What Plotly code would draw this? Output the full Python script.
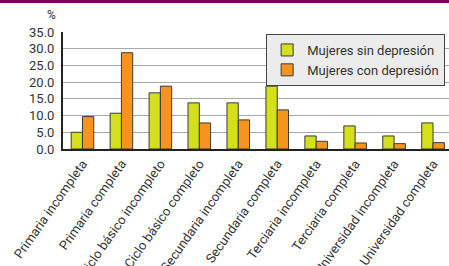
import plotly.graph_objects as go

categories = ["Primaria incompleta", "Primaria completa", "Ciclo básico incompleto",
              "Ciclo básico completo", "Secundaria incompleta", "Secundaria completa",
              "Terciaria incompleta", "Terciaria completa", "Universidad incompleta",
              "Universidad completa"]
sin_depresion = [5.0, 10.7, 16.8, 13.8, 13.8, 18.8, 3.9, 6.9, 3.9, 7.8]
con_depresion = [9.7, 28.8, 18.8, 7.8, 8.7, 11.7, 2.3, 1.8, 1.6, 1.9]
y_ticks = [0, 5, 10, 15, 20, 25, 30, 35]

font = "Roboto"
fig = go.Figure()
fig.add_bar(x=categories, y=sin_depresion, name="Mujeres sin depresión",
            marker=dict(color="#d4e01c", line=dict(color="#3a3a3a", width=1)))
fig.add_bar(x=categories, y=con_depresion, name="Mujeres con depresión",
            marker=dict(color="#f7941d", line=dict(color="#3a3a3a", width=1)))

fig.update_layout(
    width=449, height=266,
    margin=dict(l=63, r=0, t=32, b=117),
    paper_bgcolor="white", plot_bgcolor="white",
    barmode="group", bargap=0.42, bargroupgap=0,
    font=dict(family=font, size=13, color="#333333"),
    showlegend=True,
    legend=dict(x=0.99, y=0.983, xanchor="right", yanchor="top",
                bgcolor="#ececec", bordercolor="#444444", borderwidth=1,
                font=dict(family=font, size=13, color="#333333"), tracegroupgap=0),
    xaxis=dict(range=[-0.5, 9.41], tickangle=-55, showgrid=False, automargin=False,
               showline=True, linecolor="#222222", linewidth=2,
               ticks="", tickfont=dict(family=font, size=13, color="#333333")),
    yaxis=dict(range=[0, 35], tickvals=y_ticks, tickformat=".1f", automargin=False,
               showgrid=True, gridcolor="#a8a8a8", gridwidth=1,
               showline=True, linecolor="#222222", linewidth=2,
               ticks="", ticklabelstandoff=4,
               tickfont=dict(family=font, size=13, color="#333333"), zeroline=False),
    shapes=[dict(type="rect", xref="paper", yref="paper", x0=-0.2, x1=1.05,
                 y0=1.248, y1=1.4, fillcolor="#6b0a5e", line=dict(width=0))],
    annotations=[dict(text="%", xref="paper", yref="paper", x=-0.0285, y=1.145,
                      xanchor="center", yanchor="middle", showarrow=False,
                      font=dict(family=font, size=12, color="#333333"))],
)
fig.write_html("out.html", config={"displayModeBar": False},
               post_script="document.body.style.margin='0';document.body.style.overflow='hidden';")
